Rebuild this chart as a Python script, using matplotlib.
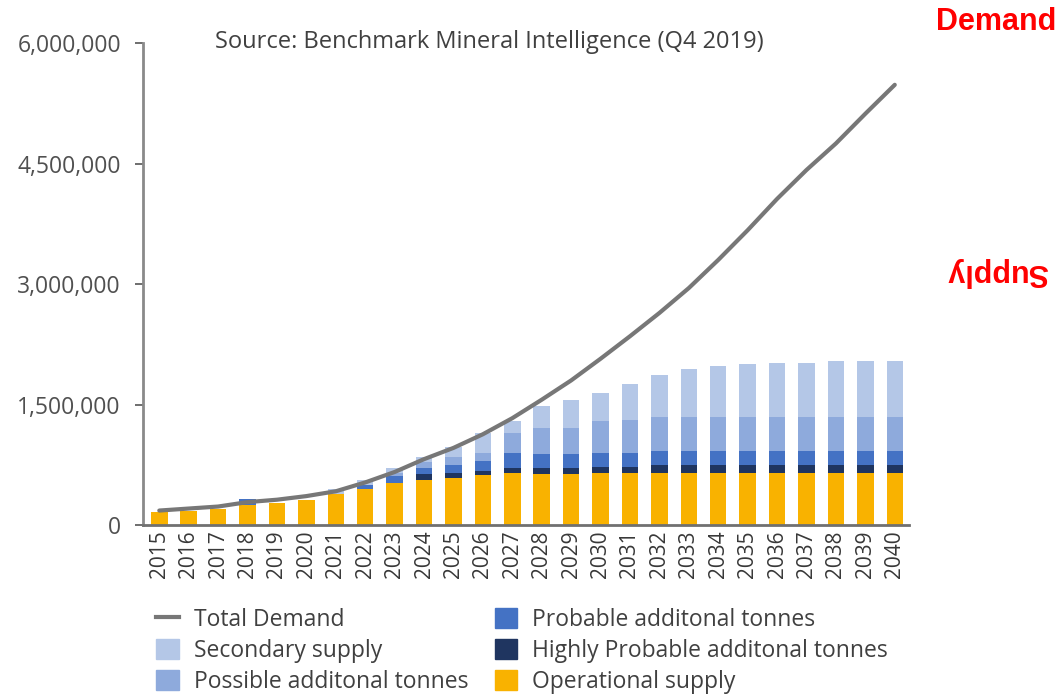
import numpy as np
import matplotlib.pyplot as plt
from matplotlib.lines import Line2D
from matplotlib.patches import Patch

plt.rcParams['font.family'] = ['Open Sans', 'DejaVu Sans']

# data (tonnes)
years = list(range(2015, 2041))
operational = [165e3, 180e3, 200e3, 250e3, 274e3, 311e3, 390e3, 448e3, 523e3, 560e3,
               585e3, 622e3, 647e3, 635e3, 635e3, 650e3, 650e3, 650e3, 650e3, 650e3,
               650e3, 650e3, 650e3, 650e3, 650e3, 650e3]
highly_probable = [0, 0, 0, 0, 0, 0, 0, 0, 0, 75e3,
                   62e3, 50e3, 63e3, 70e3, 75e3, 72e3, 72e3, 95e3, 97e3, 97e3,
                   97e3, 97e3, 97e3, 97e3, 97e3, 97e3]
probable = [0, 0, 0, 75e3, 0, 0, 0, 50e3, 87e3, 75e3,
            100e3, 125e3, 186e3, 179e3, 174e3, 174e3, 180e3, 176e3, 174e3, 174e3,
            174e3, 174e3, 174e3, 174e3, 174e3, 174e3]
possible = [0, 0, 0, 0, 0, 0, 0, 0, 40e3, 70e3,
            99e3, 99e3, 249e3, 323e3, 323e3, 399e3, 410e3, 423e3, 423e3, 423e3,
            423e3, 423e3, 423e3, 423e3, 423e3, 423e3]
secondary = [0, 0, 0, 0, 0, 0, 60e3, 62e3, 60e3, 66e3,
             124e3, 249e3, 150e3, 274e3, 349e3, 349e3, 449e3, 523e3, 598e3, 635e3,
             660e3, 672e3, 672e3, 697e3, 697e3, 697e3]
total_demand = [180e3, 205e3, 230e3, 285e3, 315e3, 360e3, 420e3, 530e3, 660e3, 820e3,
                960e3, 1130e3, 1330e3, 1560e3, 1800e3, 2070e3, 2350e3, 2640e3, 2950e3, 3300e3,
                3670e3, 4060e3, 4420e3, 4750e3, 5120e3, 5480e3]

series = [
    ("Operational supply", operational, "#f9b200"),
    ("Highly Probable additonal tonnes", highly_probable, "#1f3560"),
    ("Probable additonal tonnes", probable, "#4472c4"),
    ("Possible additonal tonnes", possible, "#8eaadc"),
    ("Secondary supply", secondary, "#b4c7e7"),
]

fig = plt.figure(figsize=(10.6, 6.94), dpi=100)
ax = fig.add_axes([0.135, 0.2435, 0.723, 0.6945])

x = np.arange(len(years))
bottom = np.zeros(len(years))
for name, vals, col in series:
    vals = np.array(vals)
    ax.bar(x, vals, 0.56, bottom=bottom, color=col, zorder=2)
    bottom += vals

ax.plot(x, total_demand, color="#777777", lw=3, zorder=3, solid_capstyle="round")

ax.set_xlim(-0.55, len(years) - 0.5)
ax.set_ylim(0, 6e6)
ax.set_yticks([0, 1.5e6, 3e6, 4.5e6, 6e6])
ax.set_yticklabels(["0", "1,500,000", "3,000,000", "4,500,000", "6,000,000"])
ax.set_xticks(x)
ax.set_xticklabels([str(y) for y in years], rotation=90)
ax.tick_params(axis="y", length=6, width=1.2, color="#555555", labelsize=16.5,
               labelcolor="#505050", pad=10)
ax.tick_params(axis="x", length=0, labelsize=15, labelcolor="#383838", pad=4)
for s in ["top", "right"]:
    ax.spines[s].set_visible(False)
ax.spines["left"].set_color("#8a8a8a")
ax.spines["left"].set_linewidth(2)
ax.spines["bottom"].set_color("#707070")
ax.spines["bottom"].set_linewidth(2)

ax.text(0.452, 1.002, "Source: Benchmark Mineral Intelligence (Q4 2019)", transform=ax.transAxes,
        ha="center", va="center", fontsize=17, color="#404040")

handles = [
    Line2D([0], [0], color="#777777", lw=3),
    Patch(color="#b4c7e7"),
    Patch(color="#8eaadc"),
    Patch(color="#4472c4"),
    Patch(color="#1f3560"),
    Patch(color="#f9b200"),
]
labels = ["Total Demand", "Secondary supply", "Possible additonal tonnes",
          "Probable additonal tonnes", "Highly Probable additonal tonnes", "Operational supply"]
leg = fig.legend(handles, labels, ncol=2, loc="upper left", bbox_to_anchor=(0.133, 0.146),
                 frameon=False, fontsize=16.5, handlelength=1.0, handleheight=1.0,
                 labelspacing=0.3, columnspacing=1.15, handletextpad=0.65, borderpad=0.15)
for t in leg.get_texts():
    t.set_color("#404040")

fig.text(0.997, 0.968, "Demand", color="red", fontsize=22, fontweight="bold",
         family="Liberation Sans", ha="right", va="center")
fig.text(0.941, 0.608, "Supply", color="red", fontsize=22, fontweight="bold",
         family="Liberation Sans", ha="center", va="center", rotation=180)

fig.savefig("out.png", dpi=100)
